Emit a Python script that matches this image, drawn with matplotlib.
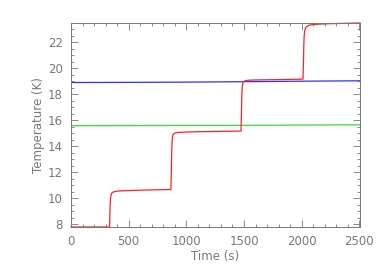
import numpy as np
import matplotlib.pyplot as plt
from matplotlib.ticker import MultipleLocator

# red: heater steps (time s, temperature K)
red_t = [0, 100, 200, 300, 335,
         337, 340, 344, 350, 358, 370, 390, 420, 500, 650, 866,
         870, 873, 876, 880, 886, 894, 906, 925, 960, 1050, 1250, 1474,
         1478, 1481, 1484, 1488, 1494, 1502, 1514, 1535, 1580, 1700, 1850, 2012,
         2016, 2019, 2022, 2026, 2032, 2040, 2052, 2075, 2120, 2250, 2400, 2506]
red_T = [7.8, 7.8, 7.8, 7.8, 7.8,
         8.8, 9.6, 10.1, 10.35, 10.45, 10.5, 10.54, 10.57, 10.6, 10.64, 10.68,
         12.0, 13.4, 14.3, 14.7, 14.9, 14.98, 15.03, 15.06, 15.08, 15.11, 15.14, 15.17,
         16.5, 17.8, 18.5, 18.8, 18.95, 19.0, 19.04, 19.07, 19.09, 19.11, 19.13, 19.16,
         20.5, 21.8, 22.5, 22.85, 23.05, 23.15, 23.25, 23.32, 23.37, 23.42, 23.45, 23.47]

blue_t = [0, 500, 1000, 1500, 2000, 2506]
blue_T = [18.9, 18.91, 18.93, 18.96, 19.0, 19.03]

green_t = [0, 500, 1000, 1500, 2000, 2506]
green_T = [15.58, 15.59, 15.6, 15.61, 15.63, 15.65]

gray = '#787878'
plt.rcParams['font.family'] = 'DejaVu Sans'
plt.rcParams['font.size'] = 8.5

fig = plt.figure(figsize=(3.82, 2.73), dpi=100)
ax = fig.add_axes([71/382, 1-227/273, (360-71)/382, (227-23)/273])

ax.plot(blue_t, blue_T, color='#3030ff', lw=0.9)
ax.plot(green_t, green_T, color='#30e030', lw=0.9)
ax.plot(red_t, red_T, color='#ff2020', lw=0.9, clip_on=False)

ax.set_xlim(0, 2506)
ax.set_ylim(7.8, 23.47)
ax.xaxis.set_major_locator(MultipleLocator(500))
ax.xaxis.set_minor_locator(MultipleLocator(100))
ax.yaxis.set_major_locator(MultipleLocator(2))
ax.yaxis.set_minor_locator(MultipleLocator(0.5))
ax.tick_params(which='both', direction='in', top=True, right=True,
               color=gray, labelcolor=gray, width=0.6)
ax.tick_params(which='major', length=5, pad=6)
ax.tick_params(which='minor', length=2.5)
for s in ax.spines.values():
    s.set_color(gray)
    s.set_linewidth(0.7)

ax.set_xlabel('Time (s)', color=gray, labelpad=1)
ax.set_ylabel('Temperature (K)', color=gray, labelpad=2)

fig.savefig('out.png', dpi=100)
